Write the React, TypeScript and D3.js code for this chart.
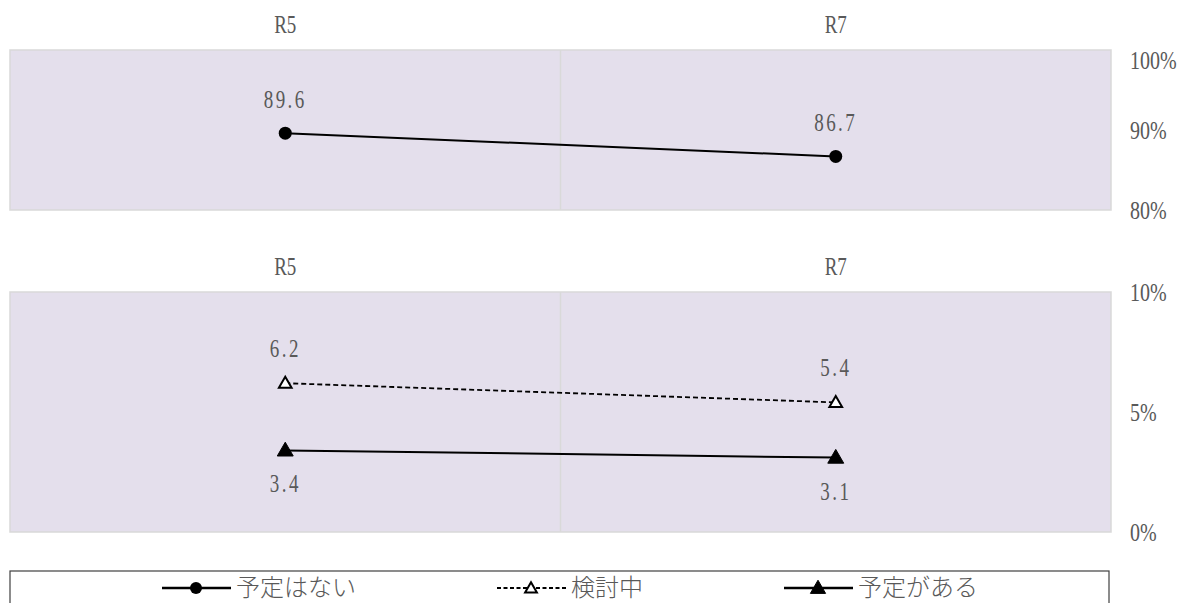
import React from "react";
import * as d3 from "d3";

const categories = ["R5", "R7"];
const noPlan = [89.6, 86.7]; // 予定はない
const considering = [6.2, 5.4]; // 検討中
const planned = [3.4, 3.1]; // 予定がある
const topTicks = [80, 90, 100];
const bottomTicks = [0, 5, 10];
const legendLabels = ["予定はない", "検討中", "予定がある"];

const W = 1180;
const H = 603;
const X0 = 10;
const X1 = 1111;
const GREY = "#595959";
const BG = "#E4DFEC";
const BORDER = "#D9D9D9";
const SERIF = "'Liberation Serif', 'DejaVu Serif', serif";
const JP = "'Noto Sans CJK JP', 'Noto Sans', sans-serif";

function STxt({ x, y, size, children, anchor = "middle", ls = 0, sy = 1.28 }: any) {
  return (
    <text
      transform={`translate(${x},${y}) scale(1,${sy})`}
      fontFamily={SERIF}
      fontSize={size}
      fill={GREY}
      textAnchor={anchor}
      letterSpacing={ls}
    >
      {children}
    </text>
  );
}

function Tri({ x, y, s, filled }: any) {
  const p = d3.symbol().type(d3.symbolTriangle).size(s)();
  return (
    <path
      d={p || ""}
      transform={`translate(${x},${y + 1})`}
      fill={filled ? "#000" : "#fff"}
      stroke="#000"
      strokeWidth={filled ? 1 : 2}
    />
  );
}

export default function App() {
  const xBand = d3.scaleBand<string>().domain(categories).range([X0, X1]).padding(0);
  const xc = (c: string) => (xBand(c) as number) + xBand.bandwidth() / 2;

  const yTop = d3.scaleLinear().domain([80, 100]).range([210, 50]);
  const yBot = d3.scaleLinear().domain([0, 10]).range([532, 292]);

  const line = (ys: d3.ScaleLinear<number, number>) =>
    d3
      .line<number>()
      .x((_, i) => xc(categories[i]))
      .y((d) => ys(d));

  const panel = (
    ys: d3.ScaleLinear<number, number>,
    ticks: number[],
    top: number,
    bottom: number,
    topLabelMin: number
  ) => (
    <g>
      <rect x={X0} y={top} width={X1 - X0} height={bottom - top} fill={BG} stroke={BORDER} strokeWidth={1.5} />
      <line x1={(X0 + X1) / 2} x2={(X0 + X1) / 2} y1={top} y2={bottom} stroke={BORDER} strokeWidth={1.5} />
      {categories.map((c) => (
        <STxt key={c} x={xc(c)} y={top - 17} size={19}>
          {c}
        </STxt>
      ))}
      {ticks.map((t) => (
        <STxt key={t} x={1130} y={Math.max(ys(t) + 9, topLabelMin)} size={20} anchor="start">
          {`${t}%`}
        </STxt>
      ))}
    </g>
  );

  return (
    <svg width={W} height={H} style={{ position: "absolute", left: 0, top: 0 }}>
      <rect width={W} height={H} fill="#fff" />
      {panel(yTop, topTicks, 50, 210, 69)}
      {panel(yBot, bottomTicks, 292, 532, 0)}

      {/* top panel: 予定はない */}
      <path d={line(yTop)(noPlan) || ""} fill="none" stroke="#000" strokeWidth={2} />
      {noPlan.map((v, i) => (
        <g key={i}>
          <circle cx={xc(categories[i])} cy={yTop(v)} r={6.5} fill="#000" />
          <STxt x={xc(categories[i])} y={yTop(v) - 25} size={19} ls={2.5}>
            {v.toFixed(1)}
          </STxt>
        </g>
      ))}

      {/* bottom panel: 検討中 */}
      <path d={line(yBot)(considering) || ""} fill="none" stroke="#000" strokeWidth={1.8} strokeDasharray="5,3" />
      {considering.map((v, i) => (
        <g key={i}>
          <Tri x={xc(categories[i])} y={yBot(v)} s={70} filled={false} />
          <STxt x={xc(categories[i])} y={yBot(v) - 26} size={19} ls={2.5}>
            {v.toFixed(1)}
          </STxt>
        </g>
      ))}

      {/* bottom panel: 予定がある */}
      <path d={line(yBot)(planned) || ""} fill="none" stroke="#000" strokeWidth={2} />
      {planned.map((v, i) => (
        <g key={i}>
          <Tri x={xc(categories[i])} y={yBot(v)} s={110} filled={true} />
          <STxt x={xc(categories[i])} y={yBot(v) + 42} size={19} ls={2.5}>
            {v.toFixed(1)}
          </STxt>
        </g>
      ))}

      {/* legend */}
      <rect x={X0} y={571} width={1099} height={50} fill="#fff" stroke="#404040" strokeWidth={1.2} />
      {[162, 497, 784].map((lx, i) => {
        const cy = 588;
        return (
          <g key={i}>
            <line
              x1={lx}
              x2={lx + 69}
              y1={cy}
              y2={cy}
              stroke="#000"
              strokeWidth={i === 1 ? 2 : 2.5}
              strokeDasharray={i === 1 ? "4,2.5" : undefined}
            />
            {i === 0 && <circle cx={lx + 34} cy={cy} r={6} fill="#000" />}
            {i === 1 && <Tri x={lx + 34} y={cy} s={60} filled={false} />}
            {i === 2 && <Tri x={lx + 34} y={cy} s={100} filled={true} />}
            <text x={lx + 74} y={cy + 8} fontFamily={JP} fontWeight={300} fontSize={24} fill={GREY}>
              {legendLabels[i]}
            </text>
          </g>
        );
      })}
    </svg>
  );
}
